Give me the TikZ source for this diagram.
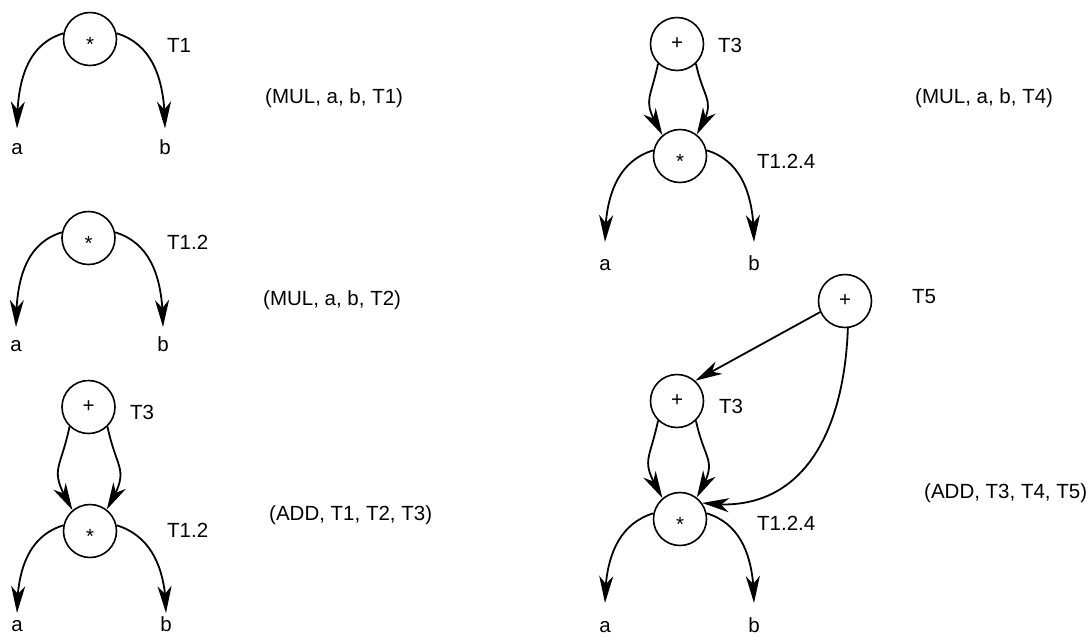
\documentclass[tikz,border=0pt]{standalone}
\usepackage{fontspec}
\setmainfont{Liberation Sans}
\usetikzlibrary{arrows.meta,bending}
\begin{document}
\begin{tikzpicture}[x=1pt,y=1pt,
  every node/.style={font=\fontsize{20.5}{24}\selectfont},
  op/.style={draw, circle, line width=1.6pt, minimum size=53pt, inner sep=0pt},
  opstar/.style={op, text height=25pt, text depth=0pt},
  leaf/.style={inner sep=0pt, outer sep=0pt, anchor=base, text height=#1, text depth=0pt},
  lbl/.style={anchor=base west, inner sep=0pt},
  arr/.style={line width=1.8pt, -{Stealth[length=27pt,width=14pt,inset=8pt,flex]}},
  dbll/.style={arr, out=-102, in=120, looseness=1.5},
  dblr/.style={arr, out=-78, in=60, looseness=1.5}]
\useasboundingbox (0,0) rectangle (1089,-641);

% ---- diagram 1
\node[opstar] (m1) at (90,-39) {*};
\node[leaf=25.5pt] (a1) at (17,-154) {a};
\node[leaf=25.5pt] (b1) at (165,-154) {b};
\node[lbl] (t1) at (167,-52) {T1};
\node[lbl] (q1) at (265,-103) {(MUL, a, b, T1)};
\draw[arr] (m1.168) to[out=197,in=90] (a1);
\draw[arr] (m1.12) to[out=-17,in=90] (b1);

% ---- diagram 2
\node[opstar] (m2) at (88.5,-238) {*};
\node[leaf=24pt] (a2) at (16,-351) {a};
\node[leaf=24pt] (b2) at (163,-351) {b};
\node[lbl] (t2) at (167,-249) {T1.2};
\node[lbl] (q2) at (263,-305) {(MUL, a, b, T2)};
\draw[arr] (m2.168) to[out=197,in=90] (a2);
\draw[arr] (m2.12) to[out=-17,in=90] (b2);

% ---- diagram 3
\node[op] (p3) at (88.5,-407) {+};
\node[opstar] (m3) at (90,-531) {*};
\node[leaf=18pt] (a3) at (17,-631) {a};
\node[leaf=18pt] (b3) at (166,-631) {b};
\node[lbl] (t3a) at (130,-419) {T3};
\node[lbl] (t3b) at (167,-537) {T1.2};
\node[lbl] (q3) at (269,-520) {(ADD, T1, T2, T3)};
\draw[dbll] (p3.-134) to (m3.130);
\draw[dblr] (p3.-46) to (m3.52);
\draw[arr] (m3.168) to[out=197,in=90] (a3);
\draw[arr] (m3.12) to[out=-17,in=90] (b3);

% ---- diagram 4 (top right)
\node[op] (p4) at (677,-44) {+};
\node[opstar] (m4) at (680,-156) {*};
\node[leaf=28pt] (a4) at (605,-270) {a};
\node[leaf=28pt] (b4) at (754,-270) {b};
\node[lbl] (t4a) at (718,-52) {T3};
\node[lbl] (t4b) at (757,-168) {T1.2.4};
\node[lbl] (q4) at (915,-103) {(MUL, a, b, T4)};
\draw[dbll] (p4.-134) to (m4.130);
\draw[dblr] (p4.-46) to (m4.52);
\draw[arr] (m4.168) to[out=197,in=90] (a4);
\draw[arr] (m4.12) to[out=-17,in=90] (b4);

% ---- diagram 5 (bottom right)
\node[op] (p5) at (845,-301) {+};
\node[op] (p6) at (677,-401) {+};
\node[opstar] (m5) at (680,-519) {*};
\node[leaf=29pt] (a5) at (605,-632) {a};
\node[leaf=29pt] (b5) at (754,-632) {b};
\node[lbl] (t5) at (912,-303) {T5};
\node[lbl] (t6) at (719,-413) {T3};
\node[lbl] (t7) at (757,-530) {T1.2.4};
\node[lbl] (q5) at (924,-498) {(ADD, T3, T4, T5)};
\draw[arr] (p5.204) -- (p6.48);
\draw[arr] (p5.-84) to[out=-92,in=-8,looseness=1.15] (m5.36);
\draw[dbll] (p6.-134) to (m5.130);
\draw[dblr] (p6.-46) to (m5.52);
\draw[arr] (m5.168) to[out=197,in=90] (a5);
\draw[arr] (m5.12) to[out=-17,in=90] (b5);
\end{tikzpicture}
\end{document}
